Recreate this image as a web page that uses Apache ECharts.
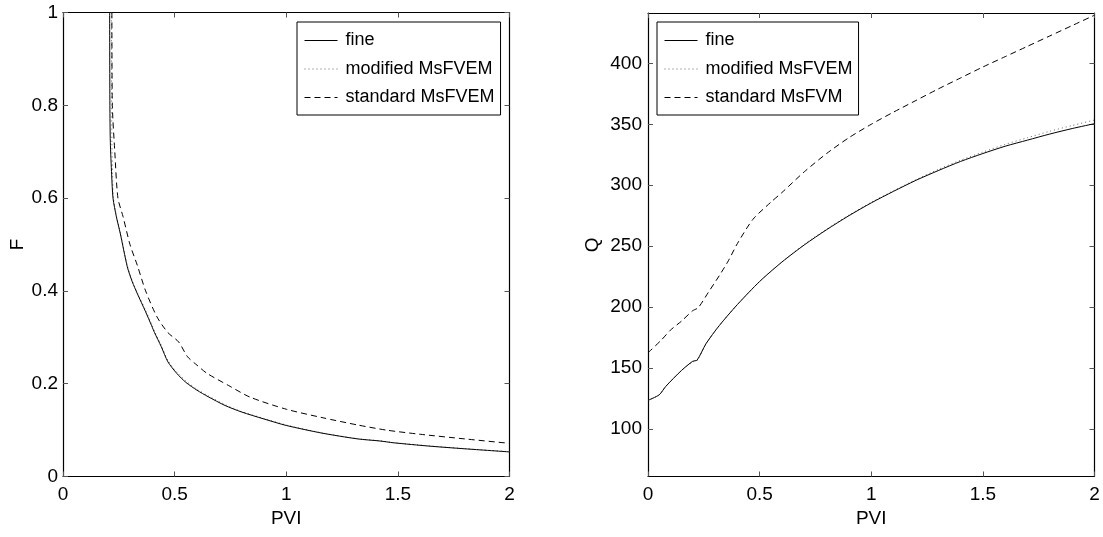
<!DOCTYPE html>
<html>
<head>
<meta charset="utf-8">
<script src="https://cdn.jsdelivr.net/npm/echarts@6/dist/echarts.min.js"></script>
<style>
html,body{margin:0;padding:0;background:#fff;}
#chart{width:1103px;height:537px;}
</style>
</head>
<body>
<div id="chart"></div>
<script>
// ---------- DATA ----------
// Left panel: F vs PVI
const fFineX = [0.209,0.210,0.212,0.218,0.224,0.239,0.256,0.288,0.31,0.333,0.37,0.397,0.41,0.44,0.47,0.51,0.55,0.60,0.65,0.726,0.80,0.90,1.00,1.16,1.32,1.42,1.48,1.64,1.80,2.00];
const fFineY = [1.000,0.800,0.720,0.650,0.600,0.560,0.525,0.452,0.420,0.394,0.355,0.325,0.310,0.280,0.247,0.222,0.203,0.186,0.172,0.153,0.139,0.124,0.110,0.0935,0.081,0.0765,0.0727,0.0655,0.0597,0.053];
const fModX = [0.217,0.218,0.219,0.222,0.226,0.240,0.257,0.289,0.31,0.333,0.37,0.397,0.41,0.44,0.47,0.51,0.55,0.60,0.65,0.726,0.80,0.90,1.00,1.16,1.32,1.42,1.48,1.64,1.80,2.00];
const fModY = [1.000,0.800,0.720,0.650,0.600,0.560,0.525,0.453,0.422,0.396,0.358,0.328,0.313,0.283,0.250,0.225,0.206,0.188,0.174,0.155,0.140,0.125,0.111,0.094,0.0815,0.077,0.073,0.066,0.060,0.0535];
const fStdX = [0.219,0.221,0.232,0.246,0.269,0.300,0.333,0.370,0.421,0.470,0.518,0.558,0.600,0.646,0.742,0.838,1.00,1.16,1.32,1.448,1.60,1.80,2.00];
const fStdY = [1.000,0.800,0.700,0.600,0.560,0.500,0.455,0.400,0.344,0.310,0.290,0.258,0.240,0.222,0.196,0.171,0.145,0.127,0.111,0.100,0.091,0.081,0.0715];

// Right panel: Q vs PVI
const qX     = [0,0.05,0.08,0.15,0.20,0.22,0.26,0.32,0.40,0.50,0.60,0.70,0.80,0.90,1.00,1.10,1.20,1.30,1.40,1.50,1.60,1.70,1.80,1.90,2.00];
const qFine  = [123.5,128,135,148,155.5,156.5,170,185,202,221,237,251,263.5,275,285.5,295,304,312,319.5,326,332,337,342,346.5,350.5];
const qMod   = [123.5,128,135,148,155,156,170,185,202,221,237,251.5,264,275.5,286,295.5,304.5,313,320.5,327.2,333.5,339,344.3,349,353.5];
const qStdX  = [0,0.06,0.10,0.15,0.20,0.225,0.27,0.32,0.36,0.40,0.47,0.55,0.60,0.70,0.80,0.90,1.00,1.10,1.20,1.30,1.40,1.50,1.60,1.70,1.80,1.90,2.00];
const qStd   = [162.5,173,181,188.5,197,199.5,212,226,238,252,272,286,294,311,326,339,350,360,369.5,379,388,397,405.5,414,422.5,431,439.5];

const xTicks = [0,0.5,1,1.5,2];
const fTicks = [0,0.2,0.4,0.6,0.8,1];
const qTicks = [100,150,200,250,300,350,400];

const names = {fine:'fine', mod:'modified MsFVEM', stdL:'standard MsFVEM', stdR:'standard MsFVM'};

// ---------- STYLE ----------
const FONT = '"Liberation Sans", Arial, Helvetica, sans-serif';
const FS = 19;   // tick / axis labels
const LFS = 18;  // legend

const zip = (xs, ys) => xs.map((x,i)=>[x, ys[i]]);

const grids = [
  {left:63, top:12.5, width:446.5, height:464},
  {left:648, top:13, width:446.5, height:463.5}
];

function xAxes(gi){
  return [
    {type:'value', gridIndex:gi, position:'bottom', min:0, max:2, interval:0.5,
     name:'PVI', nameLocation:'middle', nameGap:31,
     nameTextStyle:{fontFamily:FONT, fontSize:FS, color:'#000'},
     axisLine:{show:true, onZero:false, lineStyle:{color:'#000', width:1.2}},
     axisTick:{show:true, inside:true, length:5, lineStyle:{color:'#555'}},
     axisLabel:{fontFamily:FONT, fontSize:FS, color:'#000', margin:9},
     splitLine:{show:false}},
    {type:'value', gridIndex:gi, position:'top', min:0, max:2, interval:0.5,
     axisLine:{show:true, onZero:false, lineStyle:{color:'#000', width:1.2}},
     axisTick:{show:true, inside:true, length:5, lineStyle:{color:'#555'}},
     axisLabel:{show:false}, splitLine:{show:false}}
  ];
}
const yAxes = [
  {type:'value', gridIndex:0, position:'left', min:0, max:1, interval:0.2,
   name:'F', nameLocation:'middle', nameGap:30, nameRotate:90,
   nameTextStyle:{fontFamily:FONT, fontSize:FS, color:'#000'},
   axisLine:{show:true, onZero:false, lineStyle:{color:'#000', width:1.2}},
   axisTick:{show:true, inside:true, length:5, lineStyle:{color:'#555'}},
   axisLabel:{fontFamily:FONT, fontSize:FS, color:'#000', margin:5},
   splitLine:{show:false}},
  {type:'value', gridIndex:0, position:'right', min:0, max:1, interval:0.2,
   axisLine:{show:true, onZero:false, lineStyle:{color:'#000', width:1.2}},
   axisTick:{show:true, inside:true, length:5, lineStyle:{color:'#555'}},
   axisLabel:{show:false}, splitLine:{show:false}},
  {type:'value', gridIndex:1, position:'left', min:61, max:441.3,
   name:'Q', nameLocation:'middle', nameGap:46, nameRotate:90,
   nameTextStyle:{fontFamily:FONT, fontSize:FS, color:'#000'},
   axisLine:{show:true, onZero:false, lineStyle:{color:'#000', width:1.2}},
   axisTick:{show:true, inside:true, length:5, customValues:qTicks, lineStyle:{color:'#555'}},
   axisLabel:{fontFamily:FONT, fontSize:FS, color:'#000', margin:6, customValues:qTicks},
   splitLine:{show:false}},
  {type:'value', gridIndex:1, position:'right', min:61, max:441.3,
   axisLine:{show:true, onZero:false, lineStyle:{color:'#000', width:1.2}},
   axisTick:{show:true, inside:true, length:5, customValues:qTicks, lineStyle:{color:'#555'}},
   axisLabel:{show:false}, splitLine:{show:false}}
];

const solid = {color:'#000', width:1, type:'solid'};
const dotted = {color:'#666', width:1, type:[1,3]};
const dashed = {color:'#000', width:1, type:[6,4]};

function ser(name, data, xi, yi, ls){
  return {type:'line', name, data, xAxisIndex:xi, yAxisIndex:yi, symbol:'none', smooth:0.25,
          lineStyle:ls, itemStyle:{color:ls.color}, animation:false, z: ls===solid?3:2};
}

const series = [
  ser(names.mod,  zip(fModX,fModY), 0, 0, dotted),
  ser(names.fine, zip(fFineX,fFineY), 0, 0, solid),
  ser(names.stdL, zip(fStdX,fStdY), 0, 0, dashed),
  ser(names.mod,  zip(qX,qMod), 2, 2, dotted),
  ser(names.fine, zip(qX,qFine), 2, 2, solid),
  ser(names.stdR, zip(qStdX,qStd), 2, 2, dashed)
];

function legend(left, items){
  return {orient:'vertical', left, top:22, data:items, selectedMode:false,
    backgroundColor:'#fff', borderColor:'#000', borderWidth:1, borderRadius:0,
    padding:[8,6,7,7], itemWidth:33, itemHeight:14, itemGap:7.5,
    itemStyle:{opacity:0},
    lineStyle:{width:1},
    textStyle:{fontFamily:FONT, fontSize:LFS, color:'#000', lineHeight:21, padding:[0,0,0,3]}};
}

const option = {
  backgroundColor:'#fff',
  animation:false,
  grid: grids,
  xAxis: [...xAxes(0), ...xAxes(1)],
  yAxis: yAxes,
  legend: [legend(297, [names.fine, names.mod, names.stdL]), legend(657, [names.fine, names.mod, names.stdR])],
  series
};

const chart = echarts.init(document.getElementById('chart'), null, {renderer:'canvas'});
chart.setOption(option);
</script>
</body>
</html>
